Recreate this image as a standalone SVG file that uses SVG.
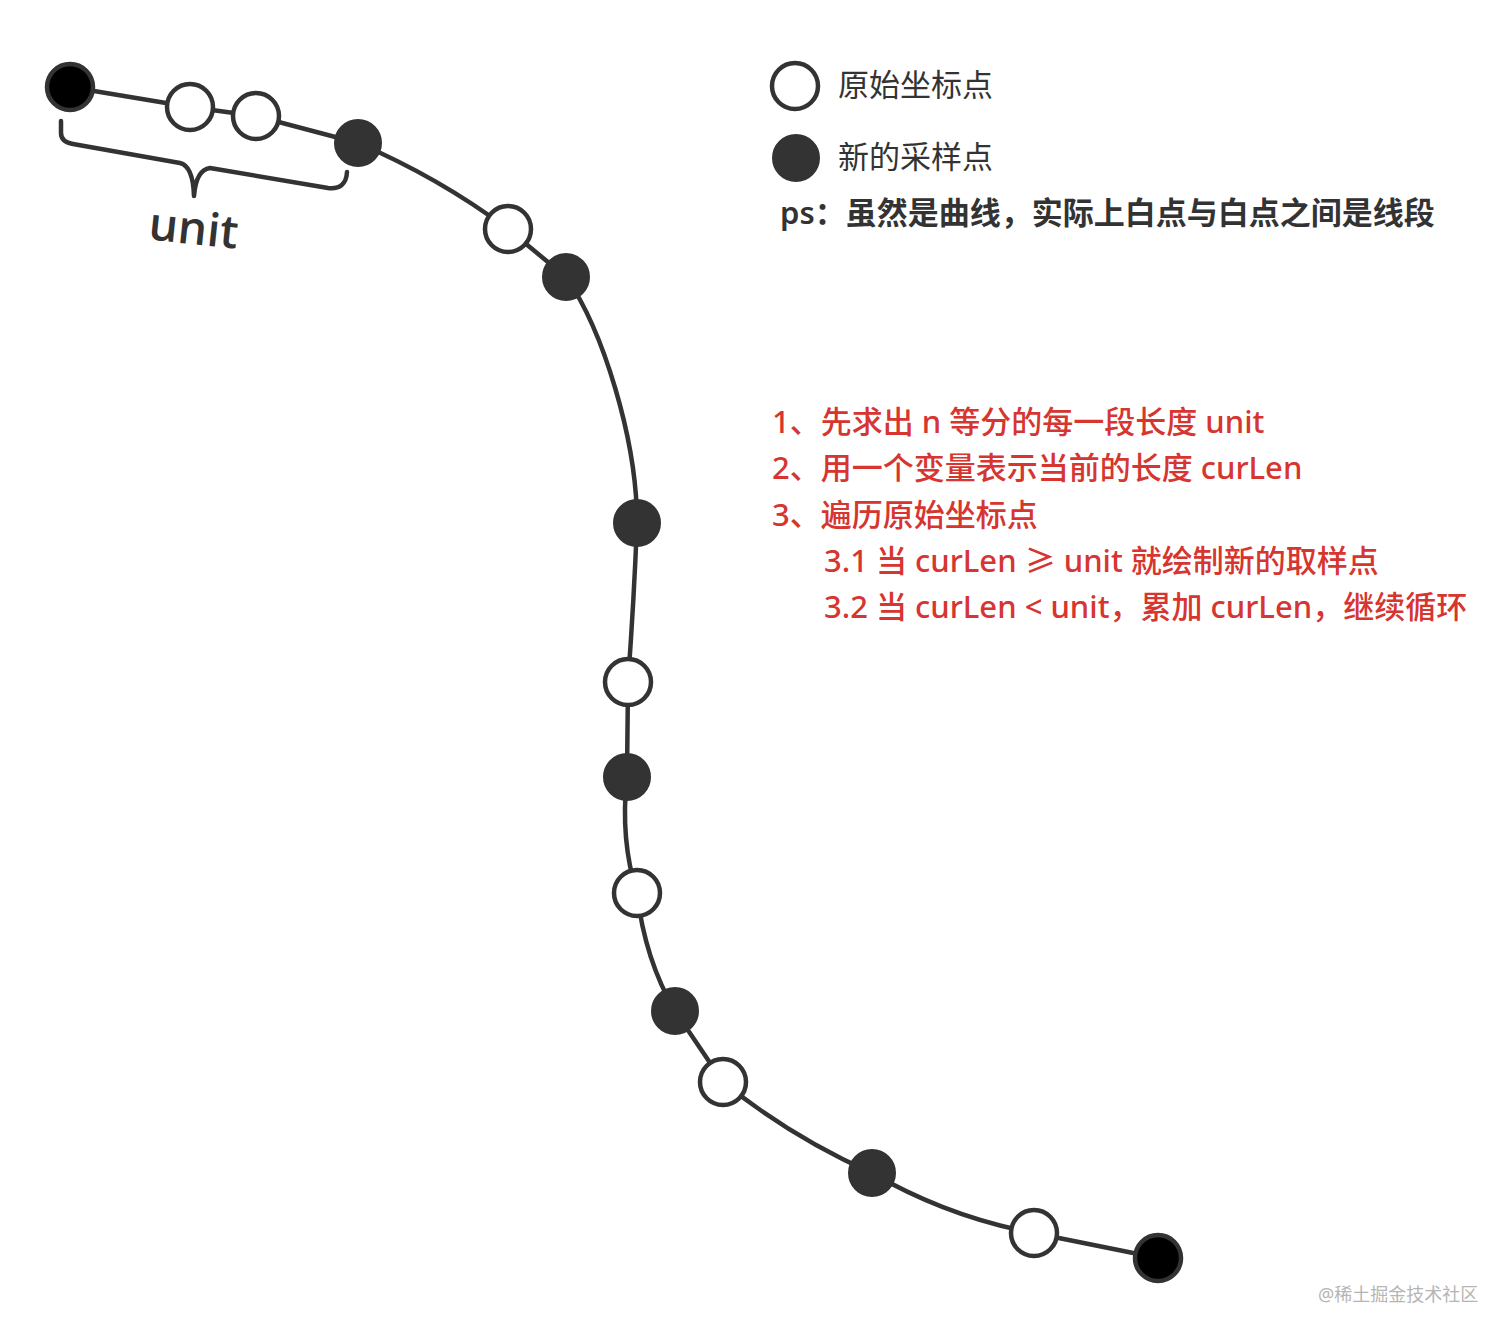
<svg xmlns="http://www.w3.org/2000/svg" width="1512" height="1338" viewBox="0 0 1512 1338">
  <style>
    .curve { fill: none; stroke: #333; stroke-width: 4.5; stroke-linecap: round; }
    .brace { fill: none; stroke: #333; stroke-width: 4.5; stroke-linecap: round; stroke-linejoin: round; }
    .orig { fill: #fff; stroke: #333; stroke-width: 4.5; }
    .samp { fill: #333; stroke: #333; stroke-width: 2; }
    .end { fill: #000; stroke: #333; stroke-width: 4.5; }
    .legend { font-family: "Noto Sans", "Noto Sans CJK SC", sans-serif; font-size: 31px; fill: #333; }
    .ps { font-family: "Noto Sans", "Noto Sans CJK SC", sans-serif; font-size: 31px; font-weight: 600; fill: #333; }
    .red { font-family: "Noto Sans", "Noto Sans CJK SC", sans-serif; font-size: 31px; font-weight: 500; fill: #d63530; }
    .unit { font-family: "Open Sans", "Noto Sans", sans-serif; font-size: 46px; font-weight: 600; fill: #333; }
    .wm { font-family: "Noto Sans", "Noto Sans CJK SC", sans-serif; font-size: 18px; fill: #b5b5b5; }
  </style>
  <rect width="1512" height="1338" fill="#fff"/>

  <g id="connectors">
    <path class="curve" d="M70,87 L190,107 L256,116 L358,143"/>
    <path class="curve" d="M358,143 Q438,177 508,229"/>
    <path class="curve" d="M508,229 L566,277"/>
    <path class="curve" d="M566,277 C603,330 637,440 637,523"/>
    <path class="curve" d="M637,523 Q634,600 628,682"/>
    <path class="curve" d="M628,682 L627,777"/>
    <path class="curve" d="M627,777 Q620,840 637,893"/>
    <path class="curve" d="M637,893 Q645,960 675,1011"/>
    <path class="curve" d="M675,1011 L723,1082"/>
    <path class="curve" d="M723,1082 Q791,1137 872,1173"/>
    <path class="curve" d="M872,1173 Q948,1217 1034,1233"/>
    <path class="curve" d="M1034,1233 L1158,1258"/>
  </g>

  <g id="unit-brace">
    <path class="brace" d="M61,121 L61,133 Q61,142 73,144 L180,163 Q193,166 194,196 Q196,170 210,168 L328,188 Q346,190 347,172"/>
    <text class="unit" x="192" y="244" text-anchor="middle" transform="rotate(6 192 244)">unit</text>
  </g>

  <g id="n0"><circle class="end" cx="70" cy="87" r="23"/></g>
  <g id="n1"><circle class="orig" cx="190" cy="107" r="23"/></g>
  <g id="n2"><circle class="orig" cx="256" cy="116" r="23"/></g>
  <g id="n3"><circle class="samp" cx="358" cy="143" r="23"/></g>
  <g id="n4"><circle class="orig" cx="508" cy="229" r="23"/></g>
  <g id="n5"><circle class="samp" cx="566" cy="277" r="23"/></g>
  <g id="n6"><circle class="samp" cx="637" cy="523" r="23"/></g>
  <g id="n7"><circle class="orig" cx="628" cy="682" r="23"/></g>
  <g id="n8"><circle class="samp" cx="627" cy="777" r="23"/></g>
  <g id="n9"><circle class="orig" cx="637" cy="893" r="23"/></g>
  <g id="n10"><circle class="samp" cx="675" cy="1011" r="23"/></g>
  <g id="n11"><circle class="orig" cx="723" cy="1082" r="23"/></g>
  <g id="n12"><circle class="samp" cx="872" cy="1173" r="23"/></g>
  <g id="n13"><circle class="orig" cx="1034" cy="1233" r="23"/></g>
  <g id="n14"><circle class="end" cx="1158" cy="1258" r="23"/></g>

  <g id="legend">
    <circle class="orig" cx="795" cy="86" r="23"/>
    <text class="legend" x="838" y="96">原始坐标点</text>
    <circle class="samp" cx="796" cy="158" r="23"/>
    <text class="legend" x="838" y="168">新的采样点</text>
    <text class="ps" x="780" y="224">ps：虽然是曲线，实际上白点与白点之间是线段</text>
  </g>

  <g id="steps">
    <text class="red" x="772" y="433">1、先求出 n 等分的每一段长度 unit</text>
    <text class="red" x="772" y="479">2、用一个变量表示当前的长度 curLen</text>
    <text class="red" x="772" y="526">3、遍历原始坐标点</text>
    <text class="red" x="824" y="572">3.1 当 curLen ≥ unit 就绘制新的取样点</text>
    <text class="red" x="824" y="618">3.2 当 curLen &lt; unit，累加 curLen，继续循环</text>
  </g>

  <text class="wm" x="1318" y="1301">@稀土掘金技术社区</text>
</svg>
